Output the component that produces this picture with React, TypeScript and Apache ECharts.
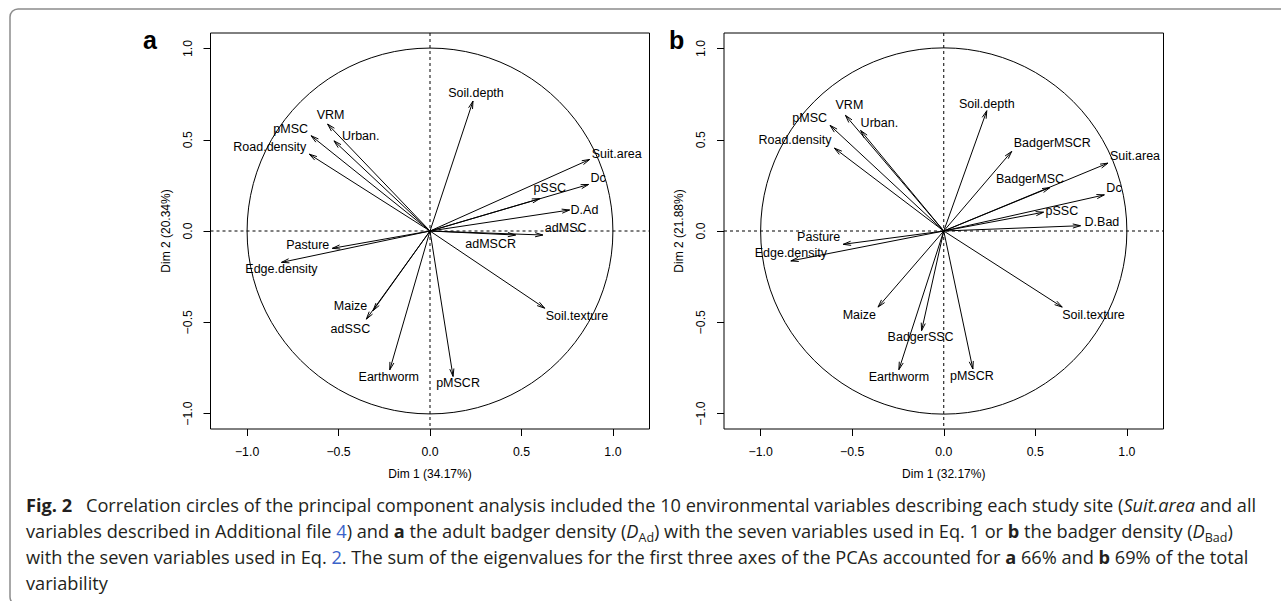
import React, { useEffect, useRef } from 'react';
import * as echarts from 'echarts';

// ---------- data ----------
const tickValues = [-1, -0.5, 0, 0.5, 1];

const varsA = ['Soil.depth', 'VRM', 'Urban.', 'pMSC', 'Road.density', 'Suit.area', 'Dc', 'pSSC', 'D.Ad', 'adMSC', 'adMSCR', 'Pasture', 'Edge.density', 'Maize', 'adSSC', 'Earthworm', 'pMSCR', 'Soil.texture'];
const dim1A = [0.235, -0.56, -0.525, -0.65, -0.66, 0.873, 0.867, 0.6, 0.763, 0.617, 0.468, -0.534, -0.812, -0.311, -0.348, -0.22, 0.126, 0.627];
const dim2A = [0.712, 0.586, 0.494, 0.522, 0.421, 0.392, 0.255, 0.177, 0.115, -0.022, -0.022, -0.095, -0.172, -0.436, -0.483, -0.761, -0.797, -0.423];

const varsB = ['Soil.depth', 'VRM', 'Urban.', 'pMSC', 'Road.density', 'BadgerMSCR', 'Suit.area', 'BadgerMSC', 'Dc', 'pSSC', 'D.Bad', 'Pasture', 'Edge.density', 'Maize', 'BadgerSSC', 'Earthworm', 'pMSCR', 'Soil.texture'];
const dim1B = [0.235, -0.537, -0.454, -0.621, -0.597, 0.371, 0.897, 0.58, 0.877, 0.545, 0.747, -0.549, -0.835, -0.359, -0.121, -0.245, 0.159, 0.647];
const dim2B = [0.659, 0.634, 0.551, 0.579, 0.454, 0.436, 0.372, 0.238, 0.198, 0.103, 0.029, -0.073, -0.164, -0.417, -0.546, -0.76, -0.756, -0.417];

const xTitles = ['Dim 1 (34.17%)', 'Dim 1 (32.17%)'];
const yTitles = ['Dim 2 (20.34%)', 'Dim 2 (21.88%)'];
const panelLetters = ['a', 'b'];

const captionLines = [
  '{b|Fig. 2}\u2002 Correlation circles of the principal component analysis included the 10 environmental variables describing each study site ({i|Suit.area} and all',
  'variables described in Additional file {l|4}) and {b|a} the adult badger density ({i|D}{s|Ad}) with the seven variables used in Eq. 1 or {b|b} the badger density ({i|D}{s|Bad})',
  'with the seven variables used in Eq. {l|2}. The sum of the eigenvalues for the first three axes of the PCAs accounted for {b|a} 66% and {b|b} 69% of the total',
  'variability',
];

// ---------- layout / style ----------
type Lay = [string, number, number];
const labelLayoutA: Record<string, Lay> = {
  'Soil.depth': ['center', 3, -8],
  VRM: ['center', 3, -9],
  'Urban.': ['left', 8, -5],
  pMSC: ['right', -3, -7],
  'Road.density': ['right', -3, -7],
  'Suit.area': ['left', 2, -5],
  Dc: ['left', 2, -6],
  pSSC: ['center', 10, -11],
  'D.Ad': ['left', 1, 0],
  adMSC: ['left', 2, -7],
  adMSCR: ['center', -25, 9],
  Pasture: ['right', -3, -3],
  'Edge.density': ['center', 0, 7],
  Maize: ['right', -6, -5],
  adSSC: ['center', -16, 10],
  Earthworm: ['center', -1, 7],
  pMSCR: ['center', 5, 7],
  'Soil.texture': ['left', 1, 8],
};
const labelLayoutB: Record<string, Lay> = {
  'Soil.depth': ['center', 0, -7],
  VRM: ['center', 4, -10],
  'Urban.': ['left', 0, -7],
  pMSC: ['right', -3, -7],
  'Road.density': ['right', -3, -8],
  BadgerMSCR: ['left', 2, -8],
  'Suit.area': ['left', 2, -7],
  BadgerMSC: ['center', -20, -9],
  Dc: ['left', 2, -7],
  pSSC: ['left', 2, -1],
  'D.Bad': ['left', 4, -4],
  Pasture: ['right', -3, -7],
  'Edge.density': ['center', 0, -8],
  Maize: ['right', -2, 8],
  BadgerSSC: ['center', -1, 6],
  Earthworm: ['center', 0, 7],
  pMSCR: ['center', -1, 7],
  'Soil.texture': ['left', 0, 8],
};

const FONT = "'Liberation Sans', Arial, Helvetica, sans-serif";
const CAP_FONT = "'Open Sans', 'Noto Sans', sans-serif";
const CAP_SIZE = 18.2;
const CAP_LH = 26;
const CAP_COLOR = '#231f20';

const gridBoxes = [
  { left: 210.5, top: 33, width: 439, height: 396 },
  { left: 724, top: 33, width: 439.5, height: 396 },
];

const fmt = (v: number) => (v < 0 ? '\u2212' : '') + Math.abs(v).toFixed(1);

function makeXAxis(i: number) {
  return {
    type: 'value', gridIndex: i, min: -1.2, max: 1.2,
    splitLine: { show: false },
    axisLine: { show: false, onZero: false },
    axisTick: { show: true, inside: false, length: 7, customValues: tickValues, lineStyle: { color: '#000', width: 1 } },
    axisLabel: { customValues: tickValues, formatter: fmt, margin: 17, fontSize: 12.3, color: '#000', fontFamily: FONT },
    name: xTitles[i], nameLocation: 'middle', nameGap: 39,
    nameTextStyle: { fontSize: 12, color: '#000', fontFamily: FONT },
  };
}
function makeYAxis(i: number) {
  return {
    type: 'value', gridIndex: i, min: -1.085, max: 1.085,
    splitLine: { show: false },
    axisLine: { show: false, onZero: false },
    axisTick: { show: true, inside: false, length: 7, customValues: tickValues, lineStyle: { color: '#000', width: 1 } },
    axisLabel: { customValues: tickValues, formatter: fmt, margin: 17, rotate: 90, fontSize: 12.3, color: '#000', fontFamily: FONT },
    name: yTitles[i], nameLocation: 'middle', nameGap: 39, nameRotate: 90,
    nameTextStyle: { fontSize: 12, color: '#000', fontFamily: FONT },
  };
}

function circleSeries(i: number) {
  return {
    type: 'custom', xAxisIndex: i, yAxisIndex: i, silent: true, clip: false,
    data: [[0, 0]],
    renderItem: (params: any, api: any) => {
      const c = api.coord([0, 0]);
      const unit = api.size([1, 1]);
      const cs = params.coordSys;
      return {
        type: 'group',
        children: [
          { type: 'circle', shape: { cx: c[0], cy: c[1], r: unit[0] }, style: { fill: 'none', stroke: '#000', lineWidth: 1 } },
          { type: 'line', shape: { x1: cs.x, y1: c[1], x2: cs.x + cs.width, y2: c[1] }, style: { stroke: '#000', lineWidth: 1, lineDash: [3, 3] } },
          { type: 'line', shape: { x1: c[0], y1: cs.y, x2: c[0], y2: cs.y + cs.height }, style: { stroke: '#000', lineWidth: 1, lineDash: [3, 3] } },
        ],
      };
    },
  };
}

function arrowSeries(i: number, names: string[], xs: number[], ys: number[], layout: Record<string, Lay>) {
  return {
    type: 'custom', xAxisIndex: i, yAxisIndex: i, silent: true, clip: false,
    data: names.map((n, k) => [xs[k], ys[k]]),
    renderItem: (params: any, api: any) => {
      const o = api.coord([0, 0]);
      const p = api.coord([api.value(0), api.value(1)]);
      const ang = Math.atan2(p[1] - o[1], p[0] - o[0]);
      const L = 8;
      const a = (15 * Math.PI) / 180;
      const h1 = [p[0] - L * Math.cos(ang - a), p[1] - L * Math.sin(ang - a)];
      const h2 = [p[0] - L * Math.cos(ang + a), p[1] - L * Math.sin(ang + a)];
      const name = names[params.dataIndex];
      const lay = layout[name] || ['left', 2, 0];
      return {
        type: 'group',
        children: [
          { type: 'line', shape: { x1: o[0], y1: o[1], x2: p[0], y2: p[1] }, style: { stroke: '#000', lineWidth: 1 } },
          { type: 'polyline', shape: { points: [h1, p, h2] }, style: { stroke: '#000', fill: 'none', lineWidth: 1 } },
          {
            type: 'text', x: p[0] + lay[1], y: p[1] + lay[2],
            style: { text: name, fill: '#000', fontSize: 12.5, fontFamily: FONT, textAlign: lay[0], textVerticalAlign: 'middle' },
          },
        ],
      };
    },
  };
}

const capRich = {
  b: { fontWeight: 'bold', fontSize: CAP_SIZE, fontFamily: CAP_FONT, fill: CAP_COLOR, lineHeight: CAP_LH },
  i: { fontStyle: 'italic', fontSize: CAP_SIZE, fontFamily: CAP_FONT, fill: CAP_COLOR, lineHeight: CAP_LH },
  l: { fontSize: CAP_SIZE, fontFamily: CAP_FONT, fill: '#3b63c9', lineHeight: CAP_LH },
  s: { fontSize: 12.5, fontFamily: CAP_FONT, fill: CAP_COLOR, verticalAlign: 'bottom', padding: [0, 0, 0, 0] },
};

const captionTop = 504.5;
const captionStep = 26.3;

const graphics: any[] = [
  { type: 'rect', shape: { x: 10, y: 9, width: 1300, height: 596, r: 8 }, style: { fill: 'none', stroke: '#8c8c8c', lineWidth: 1.5 }, silent: true },
  ...panelLetters.map((t, i) => ({
    type: 'text', x: i === 0 ? 143 : 669, y: 40,
    style: { text: t, fontSize: 25, fontWeight: 'bold', fontFamily: FONT, fill: '#000', textAlign: 'left', textVerticalAlign: 'middle' },
  })),
  ...captionLines.map((line, k) => ({
    type: 'text', x: 26, y: captionTop + k * captionStep,
    style: {
      text: line, fontSize: CAP_SIZE, fontFamily: CAP_FONT, fill: CAP_COLOR, lineHeight: CAP_LH,
      textAlign: 'left', textVerticalAlign: 'middle', rich: capRich,
    },
  })),
];

const option: any = {
  animation: false,
  backgroundColor: '#fff',
  grid: gridBoxes.map((g) => ({ ...g, show: true, borderColor: '#000', borderWidth: 1, backgroundColor: 'transparent', containLabel: false })),
  xAxis: [makeXAxis(0), makeXAxis(1)],
  yAxis: [makeYAxis(0), makeYAxis(1)],
  series: [
    circleSeries(0),
    circleSeries(1),
    arrowSeries(0, varsA, dim1A, dim2A, labelLayoutA),
    arrowSeries(1, varsB, dim1B, dim2B, labelLayoutB),
  ],
  graphic: graphics,
};

export default function App() {
  const ref = useRef<HTMLDivElement>(null);
  useEffect(() => {
    if (!ref.current) return;
    const chart = echarts.init(ref.current, null, { renderer: 'svg' });
    chart.setOption(option);
    return () => chart.dispose();
  }, []);
  return (
    <div
      ref={ref}
      style={{ position: 'absolute', left: 0, top: 0, width: 1281, height: 601, background: '#fff' }}
    />
  );
}
